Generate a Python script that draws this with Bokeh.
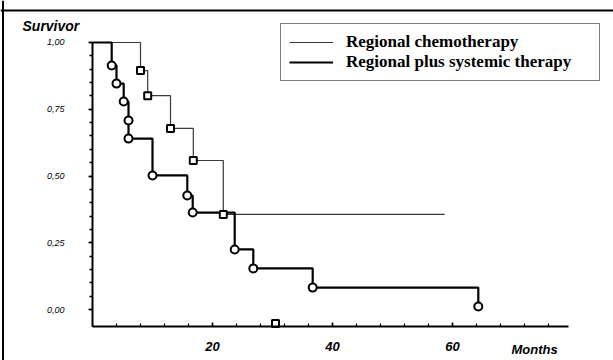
from bokeh.plotting import figure
from bokeh.models import (LinearAxis, FixedTicker, CustomJSTickFormatter, Legend, LegendItem,
                          Label, Span, Range1d)
from bokeh.embed import file_html
from bokeh.resources import INLINE

# ---- data ----
# Regional plus systemic therapy (thick line, circles)
systemic_months = [3.2, 4.0, 5.2, 6.0, 6.0, 10.0, 15.8, 16.7, 23.7, 26.8, 36.7, 64.3]
systemic_surv = [0.914, 0.846, 0.779, 0.708, 0.640, 0.502, 0.427, 0.363, 0.225, 0.154, 0.082, 0.011]
# Regional chemotherapy (thin line, squares)
regional_months = [8.0, 9.2, 13.0, 16.8, 21.8]
regional_surv = [0.895, 0.801, 0.678, 0.558, 0.356]
regional_last_followup = 58.7
regional_extra_month = [30.5]
regional_extra_surv = [-0.052]

y_ticks = [0.0, 0.25, 0.5, 0.75, 1.0]
y_minor = [0.0, 0.05, 0.1, 0.15, 0.2, 0.25, 0.3, 0.35, 0.4, 0.45, 0.5, 0.55, 0.6, 0.65,
           0.7, 0.75, 0.8, 0.85, 0.9, 0.95, 1.0]
x_ticks = [20, 40, 60]
x_minor = [0, 4, 8, 12, 16, 20, 24, 28, 32, 36, 40, 44, 48, 52, 56, 60, 64, 68, 72, 76]

W, H = 613, 360
X_START, X_END = -15.333, 86.833
Y_START, Y_END = -0.191, 1.1573
X_AXIS_AT = -0.064
X_AXIS_END = 79.3

p = figure(width=W, height=H, output_backend="svg", toolbar_location=None,
           x_axis_type=None, y_axis_type=None, min_border=0,
           x_range=Range1d(X_START, X_END), y_range=Range1d(Y_START, Y_END))
p.outline_line_color = None
p.background_fill_color = "white"
p.border_fill_color = "white"

# axes
yax = LinearAxis(fixed_location=0, bounds=(X_AXIS_AT, 1.0),
                 ticker=FixedTicker(ticks=y_ticks, minor_ticks=y_minor),
                 formatter=CustomJSTickFormatter(code="return tick.toFixed(2).replace('.', ',');"))
yax.axis_line_width = 2
yax.axis_line_color = "black"
yax.major_tick_out = 4
yax.major_tick_in = 0
yax.minor_tick_out = 3
yax.minor_tick_in = 0
yax.major_tick_line_width = 1.5
yax.minor_tick_line_width = 1.5
yax.major_label_standoff = 24
yax.major_label_text_font = "Liberation Sans"
yax.major_label_text_font_style = "italic"
yax.major_label_text_font_size = "9px"
yax.major_label_text_color = "black"
p.add_layout(yax, "left")

xax = LinearAxis(fixed_location=X_AXIS_AT, bounds=(0, X_AXIS_END),
                 ticker=FixedTicker(ticks=x_ticks, minor_ticks=x_minor))
xax.axis_line_width = 2
xax.axis_line_color = "black"
xax.major_tick_out = 0
xax.major_tick_in = 4
xax.minor_tick_out = 0
xax.minor_tick_in = 3
xax.major_tick_line_width = 1.5
xax.minor_tick_line_width = 1.2
xax.major_label_standoff = 15
xax.major_label_text_font = "Liberation Sans"
xax.major_label_text_font_style = "bold italic"
xax.major_label_text_font_size = "13px"
xax.major_label_text_color = "black"
p.add_layout(xax, "below")

# curves
sx = [0.0] + systemic_months
sy = [1.0] + systemic_surv
rx = [0.0] + regional_months + [regional_last_followup]
ry = [1.0] + regional_surv + [regional_surv[-1]]

r_thin = p.step(rx, ry, mode="after", line_color="#3a3a3a", line_width=1.2)
r_thick = p.step(sx, sy, mode="after", line_color="black", line_width=2.2)
p.scatter(regional_months, regional_surv, marker="square", size=7, fill_color="white",
          line_color="black", line_width=2)
p.scatter(regional_extra_month, regional_extra_surv, marker="square", size=7, fill_color="white",
          line_color="black", line_width=2)
p.scatter(systemic_months, systemic_surv, marker="circle", size=8, fill_color="white",
          line_color="black", line_width=2)

legend = Legend(items=[LegendItem(label="Regional chemotherapy", renderers=[r_thin]),
                       LegendItem(label="Regional plus systemic therapy", renderers=[r_thick])],
                location=(280, 279), orientation="vertical")
legend.border_line_color = "black"
legend.border_line_width = 1.5
legend.background_fill_color = "white"
legend.background_fill_alpha = 1.0
legend.padding = 8
legend.spacing = 0
legend.margin = 0
legend.glyph_width = 44
legend.glyph_height = 20
legend.label_height = 20
legend.label_standoff = 13
legend.label_width = 245
legend.label_text_font = "Liberation Serif"
legend.label_text_font_style = "bold"
legend.label_text_font_size = "17px"
legend.label_text_color = "black"
p.add_layout(legend, "center")

p.add_layout(Label(x=22, y=H - 25, x_units="screen", y_units="screen", text="Survivor",
                   text_font="Liberation Sans", text_font_style="bold italic",
                   text_font_size="14px", text_baseline="middle", text_color="black"))
p.add_layout(Label(x=511, y=H - 349, x_units="screen", y_units="screen", text="Months",
                   text_font="Liberation Sans", text_font_style="bold italic",
                   text_font_size="13px", text_baseline="middle", text_color="black"))

# page border (left and top)
p.add_layout(Span(location=X_START + 2.5 / 6, dimension="height", line_color="black", line_width=2))
p.add_layout(Span(location=Y_END - 10 / 267, dimension="width", line_color="black", line_width=2))

open("out.html", "w").write(file_html(p, INLINE))
